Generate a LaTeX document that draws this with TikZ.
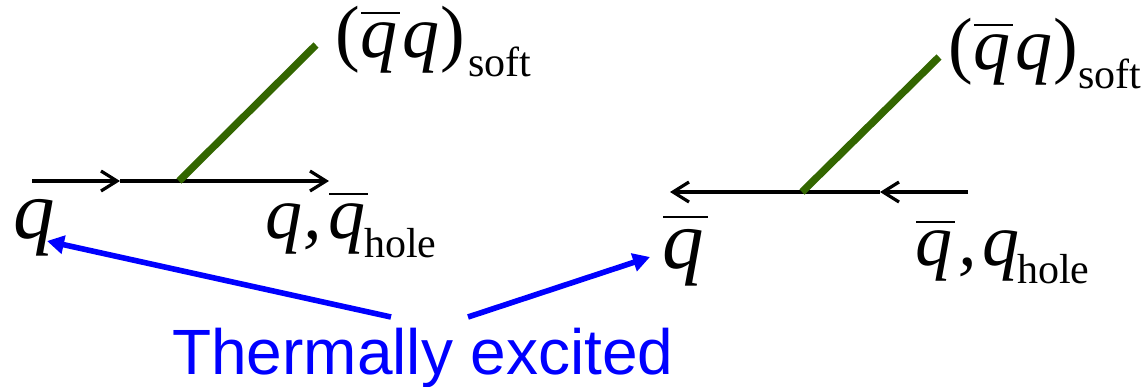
\documentclass[tikz,border=0pt]{standalone}
\usepackage{fontspec}
\setmainfont{Liberation Serif}
\newfontfamily\sansf{Liberation Sans}
\usetikzlibrary{arrows.meta}
\definecolor{dgreen}{RGB}{51,102,0}
\tikzset{x=1pt,y=-1pt,
 ln/.style={draw=black,line width=3.4pt},
 tipa/.style={-{Straight Barb[length=16pt,width=20pt,line width=3.2pt]}},
 grn/.style={draw=dgreen,line width=7.4pt},
 blu/.style={draw=blue,line width=5.6pt,-{Triangle[length=17pt,width=18pt]}},
 lab/.style={inner sep=0pt,anchor=base west,font=\fontsize{74}{74}\selectfont\itshape},
 big/.style={inner sep=0pt,anchor=base west,font=\fontsize{83}{83}\selectfont\itshape},
 par/.style={inner sep=0pt,anchor=base west,font=\fontsize{74}{74}\selectfont},
 sub/.style={inner sep=0pt,anchor=base west,font=\fontsize{42}{42}\selectfont},
 txt/.style={inner sep=0pt,anchor=base west,text=blue,font=\fontsize{64}{64}\sansf}}
\newcommand{\barq}[3]{\draw[line width=2.8pt] (#1,#2) -- ++(#3,0);}
\begin{document}
\begin{tikzpicture}
\useasboundingbox (0,0) rectangle (1148,386);
\coordinate (a0) at (32,181); \coordinate (a1) at (120,181); \coordinate (a2) at (329,181);
\coordinate (g1) at (179,181); \coordinate (g2) at (316,45);
\draw[ln,tipa] (a0) -- (a1);
\draw[ln,tipa] (a1) -- (a2);
\draw[grn] (g1) -- (g2);
\coordinate (b0) at (968,192); \coordinate (b1) at (880,192); \coordinate (b2) at (670,192);
\coordinate (h1) at (802,192); \coordinate (h2) at (939,57);
\draw[ln,tipa] (b0) -- (b1);
\draw[ln,tipa] (b1) -- (b2);
\draw[grn] (h1) -- (h2);
\node[par] (s1) at (335,57) {(};
\node[lab] (s2) at (360,57) {q};
\node[lab] (s3) at (402,57) {q};
\node[par] (s4) at (440,57) {)};
\node[sub] (s5) at (468,76) {soft};
\barq{361}{13}{39}
\node[par] (t1) at (948,69) {(};
\node[lab] (t2) at (973,69) {q};
\node[lab] (t3) at (1015,69) {q};
\node[par] (t4) at (1053,69) {)};
\node[sub] (t5) at (1078,88) {soft};
\barq{974}{25}{39}
\node[big] (q1) at (13,238) {q};
\node[lab] (q2) at (265,238) {q};
\node[lab] (q2c) at (303,238) {,};
\node[lab] (q3) at (328,238) {q};
\barq{329}{194}{39}
\node[sub] (q4) at (364,257) {hole};
\node[big] (r1) at (662,268) {q};
\barq{663}{217}{45}
\node[lab] (r2) at (915,265) {q};
\barq{916}{222}{39}
\node[lab] (r3) at (958,265) {,};
\node[lab] (r4) at (982,265) {q};
\node[sub] (r5) at (1017,283) {hole};
\node[txt] (th) at (172,374) {Thermally excited};
\coordinate (c0) at (391,317); \coordinate (c1) at (47,241);
\coordinate (d0) at (468,317); \coordinate (d1) at (650,257);
\draw[blu] (c0) -- (c1);
\draw[blu] (d0) -- (d1);
\end{tikzpicture}
\end{document}
